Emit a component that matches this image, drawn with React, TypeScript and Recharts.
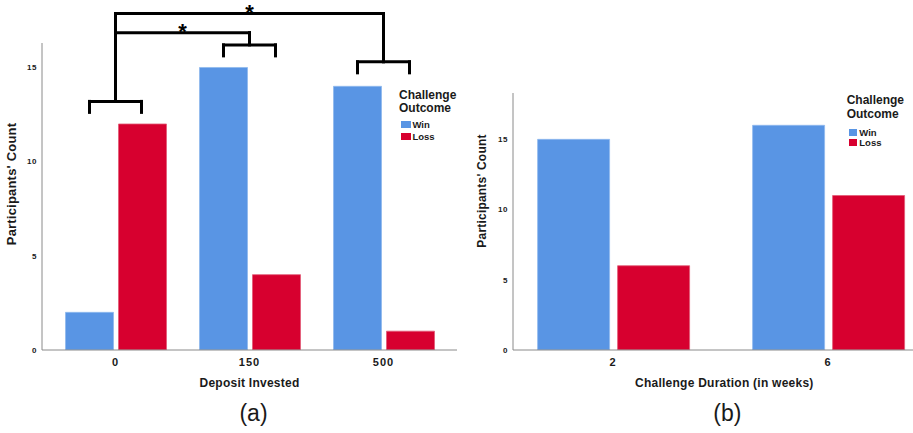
import React from 'react';
import { BarChart, Bar, XAxis, YAxis, ReferenceLine, ReferenceDot, Legend, Label } from 'recharts';

// ---------- data ----------
const depositCategories = ['0', '150', '500'];
const depositWin = [2, 15, 14];
const depositLoss = [12, 4, 1];

const durationCategories = ['2', '6'];
const durationWin = [15, 16];
const durationLoss = [6, 11];

const countTicks = [0, 5, 10, 15];
const seriesNames = ['Win', 'Loss'];
const legendTitle = ['Challenge', 'Outcome'];

// significance annotations for (a): bracket level per group, and pairwise comparisons (count units)
const groupBracketLevels = [13.2, 16.2, 15.3];
const comparisons = [
  { from: 0, to: 2, level: 17.86, mark: '*' },
  { from: 0, to: 1, level: 16.85, mark: '*' },
];

// ---------- styles ----------
const FONT = '"Liberation Sans", Arial, Helvetica, sans-serif';
const WIN = '#5995E4';
const LOSS = '#D7002F';
const AXIS = '#8a8a8a';
const INK = '#1a1a1a';

const depositData = depositCategories.map((c, i) => ({ cat: c, idx: i, win: depositWin[i], loss: depositLoss[i] }));
const durationData = durationCategories.map((c, i) => ({ cat: c, win: durationWin[i], loss: durationLoss[i] }));

// layout of (a)
const A = { width: 470, height: 433, top: 43, right: 13, bottom: 33, yw: 42, xh: 50, padL: 6.5, padR: 6.5, yMax: 16.3, bar: 47, gap: 5, catGap: 17 };
const aPlotW = A.width - A.right - A.yw;
const aPlotH = A.height - A.top - A.bottom - A.xh;
const aBand = (aPlotW - A.padL - A.padR) / depositCategories.length;
const aExtL = 0.5 + A.padL / aBand;
const aExtR = 0.5 + A.padR / aBand;
const aHalf = (A.bar + A.gap) / 2 / aBand;
const aPxPerUnit = aPlotH / A.yMax;
const aTickDown = 11 / aPxPerUnit;

// layout of (b)
const B = { left: 470, width: 470, height: 433, top: 93, right: 4.4, bottom: 33, yw: 43, xh: 50, padL: -7.4, padR: 0, yMax: 18.3, gap: 8, catGap: 32 };

type Seg = [{ x: number; y: number }, { x: number; y: number }];
const bracketSegments: Seg[] = [];
groupBracketLevels.forEach((lvl, g) => {
  const tops = comparisons.filter((c) => c.from === g || c.to === g).map((c) => c.level);
  const top = Math.max(lvl, ...tops);
  bracketSegments.push([{ x: g - aHalf, y: lvl }, { x: g + aHalf, y: lvl }]);
  bracketSegments.push([{ x: g - aHalf, y: lvl }, { x: g - aHalf, y: lvl - aTickDown }]);
  bracketSegments.push([{ x: g + aHalf, y: lvl }, { x: g + aHalf, y: lvl - aTickDown }]);
  bracketSegments.push([{ x: g, y: lvl }, { x: g, y: top }]);
});
comparisons.forEach((c) => {
  bracketSegments.push([{ x: c.from, y: c.level }, { x: c.to, y: c.level }]);
});

const tickStyleY = { fontFamily: FONT, fontSize: 8, fontWeight: 700, fill: INK, letterSpacing: 0.5 };
const tickStyleX = { fontFamily: FONT, fontSize: 11, fontWeight: 700, fill: INK, letterSpacing: 1 };

function makeXLabel(title: string, tag: string, tagDx: number) {
  return (props: any) => {
    const vb = props.viewBox || {};
    const cx = vb.x + vb.width / 2;
    return (
      <g>
        <text x={cx} y={vb.y + 37} textAnchor="middle" fontFamily={FONT} fontSize={12} fontWeight={700} fill={INK} letterSpacing={0.25}>
          {title}
        </text>
        <text x={cx + tagDx} y={vb.y + 71} textAnchor="middle" fontFamily={FONT} fontSize={23} fill={INK}>
          {tag}
        </text>
      </g>
    );
  };
}

function makeYLabel(text: string, baseX: number, centerY: number, size: number) {
  return (props: any) => {
    const vb = props.viewBox || {};
    const x = vb.x + baseX;
    const y = centerY;
    return (
      <text x={x} y={y} transform={`rotate(-90 ${x} ${y})`} textAnchor="middle" fontFamily={FONT} fontSize={size} fontWeight={700} fill={INK} letterSpacing={0.2}>
        {text}
      </text>
    );
  };
}

function makeLegend(o: { title: number; titleLine: number; sw: number; sh: number; row: number; mt: number; ml: number; tg: number; fs: number }) {
  return (props: any) => {
    const payload = [...(props.payload || [])].sort(
      (a: any, b: any) => seriesNames.indexOf(a.value) - seriesNames.indexOf(b.value)
    );
    return (
      <div style={{ fontFamily: FONT, fontWeight: 700, color: INK, textAlign: 'left', whiteSpace: 'nowrap' }}>
        <div style={{ fontSize: o.title, lineHeight: `${o.titleLine}px` }}>
          {legendTitle[0]}
          <br />
          {legendTitle[1]}
        </div>
        <div style={{ marginTop: o.mt }}>
          {payload.map((p: any) => (
            <div key={p.value} style={{ display: 'flex', alignItems: 'center', height: o.row, marginLeft: o.ml, fontSize: o.fs }}>
              <span style={{ display: 'inline-block', width: o.sw, height: o.sh, background: p.color, marginRight: o.tg }} />
              <span>{p.value}</span>
            </div>
          ))}
        </div>
      </div>
    );
  };
}

const StarLabel = (props: any) => {
  const vb = props.viewBox || {};
  const cx = vb.x + (vb.width || 0) / 2;
  const cy = vb.y + (vb.height || 0) / 2;
  return (
    <text x={cx} y={cy + 6.5} textAnchor="middle" fontFamily={FONT} fontSize={22} fontWeight={700} fill="#000">
      {props.value}
    </text>
  );
};

export default function App() {
  return (
    <div style={{ position: 'absolute', left: 0, top: 0, width: 913, height: 433, overflow: 'hidden', background: '#fff' }}>
      <div style={{ position: 'absolute', left: 0, top: 0 }}>
        <BarChart
          width={A.width}
          height={A.height}
          data={depositData}
          margin={{ top: A.top, right: A.right, bottom: A.bottom, left: 0 }}
          barGap={A.gap}
          barCategoryGap={A.catGap}
        >
          <XAxis
            dataKey="cat"
            height={A.xh}
            padding={{ left: A.padL, right: A.padR }}
            tickLine={false}
            tickSize={0}
            tickMargin={8}
            axisLine={{ stroke: AXIS, strokeWidth: 1 }}
            tick={tickStyleX}
          >
            <Label content={makeXLabel('Deposit Invested', '(a)', 4)} />
          </XAxis>
          <XAxis
            xAxisId="idx"
            dataKey="idx"
            type="number"
            hide
            domain={[(m: number) => m - aExtL, (m: number) => m + aExtR]}
            allowDataOverflow
          />
          <YAxis
            width={A.yw}
            domain={[0, A.yMax]}
            ticks={countTicks}
            allowDataOverflow
            tickLine={false}
            tickSize={0}
            tickMargin={5}
            axisLine={{ stroke: AXIS, strokeWidth: 1 }}
            tick={tickStyleY}
          >
            <Label content={makeYLabel("Participants' Count", 15.5, 184, 13)} />
          </YAxis>
          <Legend
            layout="horizontal"
            align="center"
            verticalAlign="middle"
            content={makeLegend({ title: 12, titleLine: 13.3, sw: 9.7, sh: 7.3, row: 12.3, mt: 2.6, ml: 2, tg: 1.8, fs: 9.5 })}
            wrapperStyle={{ position: 'absolute', left: 399, top: 89, width: 'auto' }}
          />
          <Bar dataKey="win" name={seriesNames[0]} fill={WIN} stroke="#8fb9ee" strokeWidth={0.8} isAnimationActive={false} />
          <Bar dataKey="loss" name={seriesNames[1]} fill={LOSS} stroke="#e25a76" strokeWidth={0.8} isAnimationActive={false} />
          {bracketSegments.map((s, i) => (
            <ReferenceLine key={i} xAxisId="idx" segment={s} stroke="#000" strokeWidth={3} strokeLinecap="square" ifOverflow="visible" />
          ))}
          {comparisons.map((c, i) => (
            <ReferenceDot
              key={'s' + i}
              xAxisId="idx"
              x={(c.from + c.to) / 2}
              y={c.level}
              r={1}
              fill="none"
              stroke="none"
              ifOverflow="visible"
              label={<StarLabel value={c.mark} />}
            />
          ))}
        </BarChart>
      </div>
      <div style={{ position: 'absolute', left: B.left, top: 0 }}>
        <BarChart
          width={B.width}
          height={B.height}
          data={durationData}
          margin={{ top: B.top, right: B.right, bottom: B.bottom, left: 0 }}
          barGap={B.gap}
          barCategoryGap={B.catGap}
        >
          <XAxis
            dataKey="cat"
            height={B.xh}
            padding={{ left: B.padL, right: B.padR }}
            tickLine={false}
            tickSize={0}
            tickMargin={8}
            axisLine={{ stroke: AXIS, strokeWidth: 1 }}
            tick={tickStyleX}
          >
            <Label content={makeXLabel('Challenge Duration (in weeks)', '(b)', 3)} />
          </XAxis>
          <YAxis
            width={B.yw}
            domain={[0, B.yMax]}
            ticks={countTicks}
            allowDataOverflow
            tickLine={false}
            tickSize={0}
            tickMargin={5}
            axisLine={{ stroke: AXIS, strokeWidth: 1 }}
            tick={tickStyleY}
          >
            <Label content={makeYLabel("Participants' Count", 16, 191, 12)} />
          </YAxis>
          <Legend
            layout="horizontal"
            align="center"
            verticalAlign="middle"
            content={makeLegend({ title: 12, titleLine: 13.6, sw: 8, sh: 6.6, row: 10.3, mt: 6, ml: 2.6, tg: 2, fs: 9.5 })}
            wrapperStyle={{ position: 'absolute', left: 376.7, top: 94, width: 'auto' }}
          />
          <Bar dataKey="win" name={seriesNames[0]} fill={WIN} stroke="#8fb9ee" strokeWidth={0.8} isAnimationActive={false} />
          <Bar dataKey="loss" name={seriesNames[1]} fill={LOSS} stroke="#e25a76" strokeWidth={0.8} isAnimationActive={false} />
        </BarChart>
      </div>
    </div>
  );
}
